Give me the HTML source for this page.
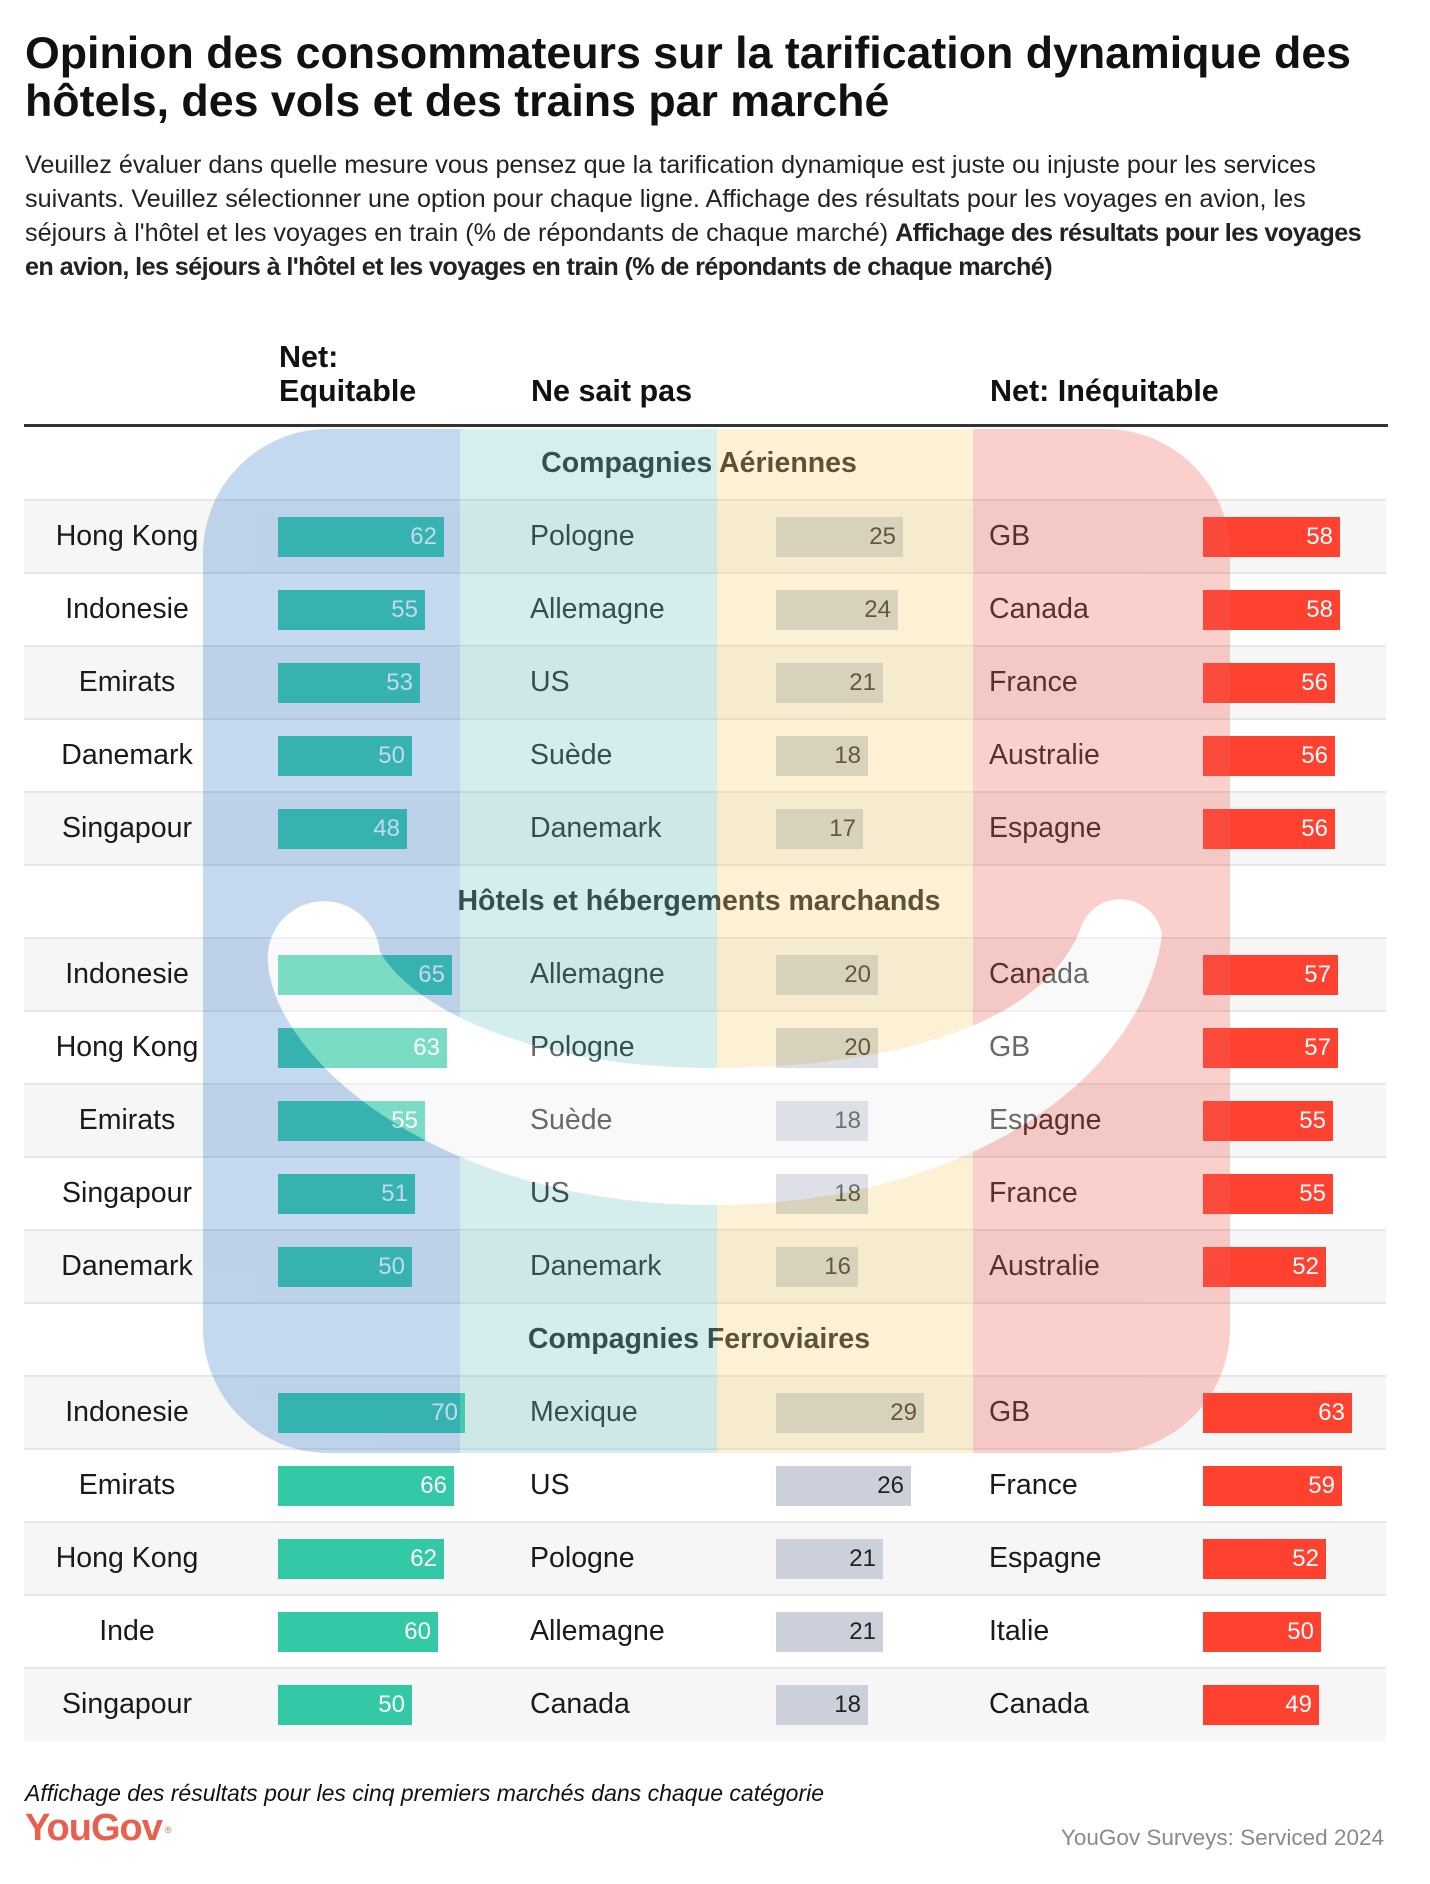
<!DOCTYPE html>
<html><head><meta charset="utf-8">
<style>
*{margin:0;padding:0}
body{width:1430px;height:1884px;background:#fff;position:relative;overflow:hidden;font-family:"Liberation Sans",Arial,sans-serif;color:#1a1a1a}
.title{position:absolute;left:25px;top:30px;font-weight:700;font-size:44.7px;line-height:48px;color:#111;white-space:nowrap;letter-spacing:0px}
.sub{position:absolute;left:25px;top:148px;font-size:25.2px;line-height:34px;color:#222;white-space:nowrap}
.sub b{font-weight:700;letter-spacing:-0.6px}
.hd{position:absolute;font-weight:700;font-size:30.5px;line-height:34px;color:#111;white-space:nowrap}
.rule{position:absolute;left:24px;top:424px;width:1364px;height:3px;background:#333}
.row{position:absolute;left:0;width:1430px;height:73px}
.g{position:absolute;left:24px;top:0;width:1362px;height:73px;background:#f6f6f6}
.ln{position:absolute;left:24px;width:1362px;height:2px;background:#e6e6e6}
.t{position:absolute;top:0;font-size:28.5px;line-height:73px;color:#1a1a1a;white-space:nowrap}
.c1{left:24px;width:206px;text-align:center}
.c2{left:530px}
.c3{left:989px}
.b{position:absolute;top:17px;height:40px;line-height:40px;font-size:24px;text-align:right;padding-right:7px;box-sizing:border-box}
.bg{left:278px;background:#33c9a6;color:#fff}
.bz{left:776px;background:#cbd0db;color:#222}
.br{left:1203px;background:#ff4130;color:#fff}
.sec{position:absolute;left:0;width:1398px;height:73px;line-height:73px;text-align:center;font-weight:700;font-size:28.5px;color:#1a1a1a}
.foot{position:absolute;left:25px;top:1779px;font-style:italic;font-size:23px;line-height:28px;color:#111;white-space:nowrap}
.logo{position:absolute;left:25px;top:1807px;font-weight:700;font-size:38px;line-height:42px;color:#e8604f;letter-spacing:-1px}
.logo sup{font-size:9px;font-weight:400;vertical-align:top;position:relative;top:2px;left:3px}
.src{position:absolute;right:46px;top:1824px;font-size:22.5px;line-height:28px;color:#8a8a8a;white-space:nowrap}
</style></head>
<body>
<div class="title">Opinion des consommateurs sur la tarification dynamique des<br>hôtels, des vols et des trains par marché</div>
<div class="sub">Veuillez évaluer dans quelle mesure vous pensez que la tarification dynamique est juste ou injuste pour les services<br>suivants. Veuillez sélectionner une option pour chaque ligne. Affichage des résultats pour les voyages en avion, les<br>séjours à l'hôtel et les voyages en train (% de répondants de chaque marché) <b>Affichage des résultats pour les voyages</b><br><b>en avion, les séjours à l'hôtel et les voyages en train (% de répondants de chaque marché)</b></div>

<div class="hd" style="left:279px;top:340px">Net:<br>Equitable</div>
<div class="hd" style="left:531px;top:374px">Ne sait pas</div>
<div class="hd" style="left:990px;top:374px">Net: Inéquitable</div>
<div class="rule"></div>

<!-- Section 1 -->
<div class="sec" style="top:427px">Compagnies Aériennes</div>
<div class="row" style="top:500px"><div class="g"></div><div class="t c1">Hong Kong</div><div class="b bg" style="width:166px">62</div><div class="t c2">Pologne</div><div class="b bz" style="width:127px">25</div><div class="t c3">GB</div><div class="b br" style="width:137px">58</div></div>
<div class="row" style="top:573px"><div class="t c1">Indonesie</div><div class="b bg" style="width:147px">55</div><div class="t c2">Allemagne</div><div class="b bz" style="width:122px">24</div><div class="t c3">Canada</div><div class="b br" style="width:137px">58</div></div>
<div class="row" style="top:646px"><div class="g"></div><div class="t c1">Emirats</div><div class="b bg" style="width:142px">53</div><div class="t c2">US</div><div class="b bz" style="width:107px">21</div><div class="t c3">France</div><div class="b br" style="width:132px">56</div></div>
<div class="row" style="top:719px"><div class="t c1">Danemark</div><div class="b bg" style="width:134px">50</div><div class="t c2">Suède</div><div class="b bz" style="width:92px">18</div><div class="t c3">Australie</div><div class="b br" style="width:132px">56</div></div>
<div class="row" style="top:792px"><div class="g"></div><div class="t c1">Singapour</div><div class="b bg" style="width:129px">48</div><div class="t c2">Danemark</div><div class="b bz" style="width:87px">17</div><div class="t c3">Espagne</div><div class="b br" style="width:132px">56</div></div>

<!-- Section 2 -->
<div class="sec" style="top:865px">Hôtels et hébergements marchands</div>
<div class="row" style="top:938px"><div class="g"></div><div class="t c1">Indonesie</div><div class="b bg" style="width:174px">65</div><div class="t c2">Allemagne</div><div class="b bz" style="width:102px">20</div><div class="t c3">Canada</div><div class="b br" style="width:135px">57</div></div>
<div class="row" style="top:1011px"><div class="t c1">Hong Kong</div><div class="b bg" style="width:169px">63</div><div class="t c2">Pologne</div><div class="b bz" style="width:102px">20</div><div class="t c3">GB</div><div class="b br" style="width:135px">57</div></div>
<div class="row" style="top:1084px"><div class="g"></div><div class="t c1">Emirats</div><div class="b bg" style="width:147px">55</div><div class="t c2">Suède</div><div class="b bz" style="width:92px">18</div><div class="t c3">Espagne</div><div class="b br" style="width:130px">55</div></div>
<div class="row" style="top:1157px"><div class="t c1">Singapour</div><div class="b bg" style="width:137px">51</div><div class="t c2">US</div><div class="b bz" style="width:92px">18</div><div class="t c3">France</div><div class="b br" style="width:130px">55</div></div>
<div class="row" style="top:1230px"><div class="g"></div><div class="t c1">Danemark</div><div class="b bg" style="width:134px">50</div><div class="t c2">Danemark</div><div class="b bz" style="width:82px">16</div><div class="t c3">Australie</div><div class="b br" style="width:123px">52</div></div>

<!-- Section 3 -->
<div class="sec" style="top:1303px">Compagnies Ferroviaires</div>
<div class="row" style="top:1376px"><div class="g"></div><div class="t c1">Indonesie</div><div class="b bg" style="width:187px">70</div><div class="t c2">Mexique</div><div class="b bz" style="width:148px">29</div><div class="t c3">GB</div><div class="b br" style="width:149px">63</div></div>
<div class="row" style="top:1449px"><div class="t c1">Emirats</div><div class="b bg" style="width:176px">66</div><div class="t c2">US</div><div class="b bz" style="width:135px">26</div><div class="t c3">France</div><div class="b br" style="width:139px">59</div></div>
<div class="row" style="top:1522px"><div class="g"></div><div class="t c1">Hong Kong</div><div class="b bg" style="width:166px">62</div><div class="t c2">Pologne</div><div class="b bz" style="width:107px">21</div><div class="t c3">Espagne</div><div class="b br" style="width:123px">52</div></div>
<div class="row" style="top:1595px"><div class="t c1">Inde</div><div class="b bg" style="width:160px">60</div><div class="t c2">Allemagne</div><div class="b bz" style="width:107px">21</div><div class="t c3">Italie</div><div class="b br" style="width:118px">50</div></div>
<div class="row" style="top:1668px"><div class="g"></div><div class="t c1">Singapour</div><div class="b bg" style="width:134px">50</div><div class="t c2">Canada</div><div class="b bz" style="width:92px">18</div><div class="t c3">Canada</div><div class="b br" style="width:116px">49</div></div>

<!-- separator lines -->
<div class="ln" style="top:499px"></div>
<div class="ln" style="top:572px"></div>
<div class="ln" style="top:645px"></div>
<div class="ln" style="top:718px"></div>
<div class="ln" style="top:791px"></div>
<div class="ln" style="top:864px"></div>
<div class="ln" style="top:937px"></div>
<div class="ln" style="top:1010px"></div>
<div class="ln" style="top:1083px"></div>
<div class="ln" style="top:1156px"></div>
<div class="ln" style="top:1229px"></div>
<div class="ln" style="top:1302px"></div>
<div class="ln" style="top:1375px"></div>
<div class="ln" style="top:1448px"></div>
<div class="ln" style="top:1521px"></div>
<div class="ln" style="top:1594px"></div>
<div class="ln" style="top:1667px"></div>

<!-- overlay logo -->
<svg width="1430" height="1884" style="position:absolute;left:0;top:0;pointer-events:none" xmlns="http://www.w3.org/2000/svg">
<defs>
<clipPath id="rr"><rect x="203" y="429" width="1027" height="1024" rx="125" ry="125"/></clipPath>
<mask id="m"><rect x="0" y="0" width="1430" height="1884" fill="#fff"/>
<path d="M 268 963 C 275 1060, 440 1205, 712 1205 C 950 1205, 1140 1090, 1162 935 A 42 42 0 0 0 1080 930 C 1040 1030, 880 1068, 712 1068 C 540 1068, 415 1012, 380 952 A 56 56 0 0 0 268 963 Z" fill="#000"/></mask>
</defs>
<g clip-path="url(#rr)">
<g mask="url(#m)" opacity="0.3">
<rect x="203" y="429" width="257" height="1024" fill="rgb(62,128,202)"/>
<rect x="460" y="429" width="257" height="1024" fill="rgb(115,202,202)"/>
<rect x="717" y="429" width="256" height="1024" fill="rgb(248,212,115)"/>
<rect x="973" y="429" width="257" height="1024" fill="rgb(242,98,88)"/>
</g>
</g>
<path d="M 268 963 C 275 1060, 440 1205, 712 1205 C 950 1205, 1140 1090, 1162 935 A 42 42 0 0 0 1080 930 C 1040 1030, 880 1068, 712 1068 C 540 1068, 415 1012, 380 952 A 56 56 0 0 0 268 963 Z" fill="#fff" opacity="0.35"/>
</svg>

<div class="foot">Affichage des résultats pour les cinq premiers marchés dans chaque catégorie</div>
<div class="logo">YouGov<sup>®</sup></div>
<div class="src">YouGov Surveys: Serviced 2024</div>
</body></html>
